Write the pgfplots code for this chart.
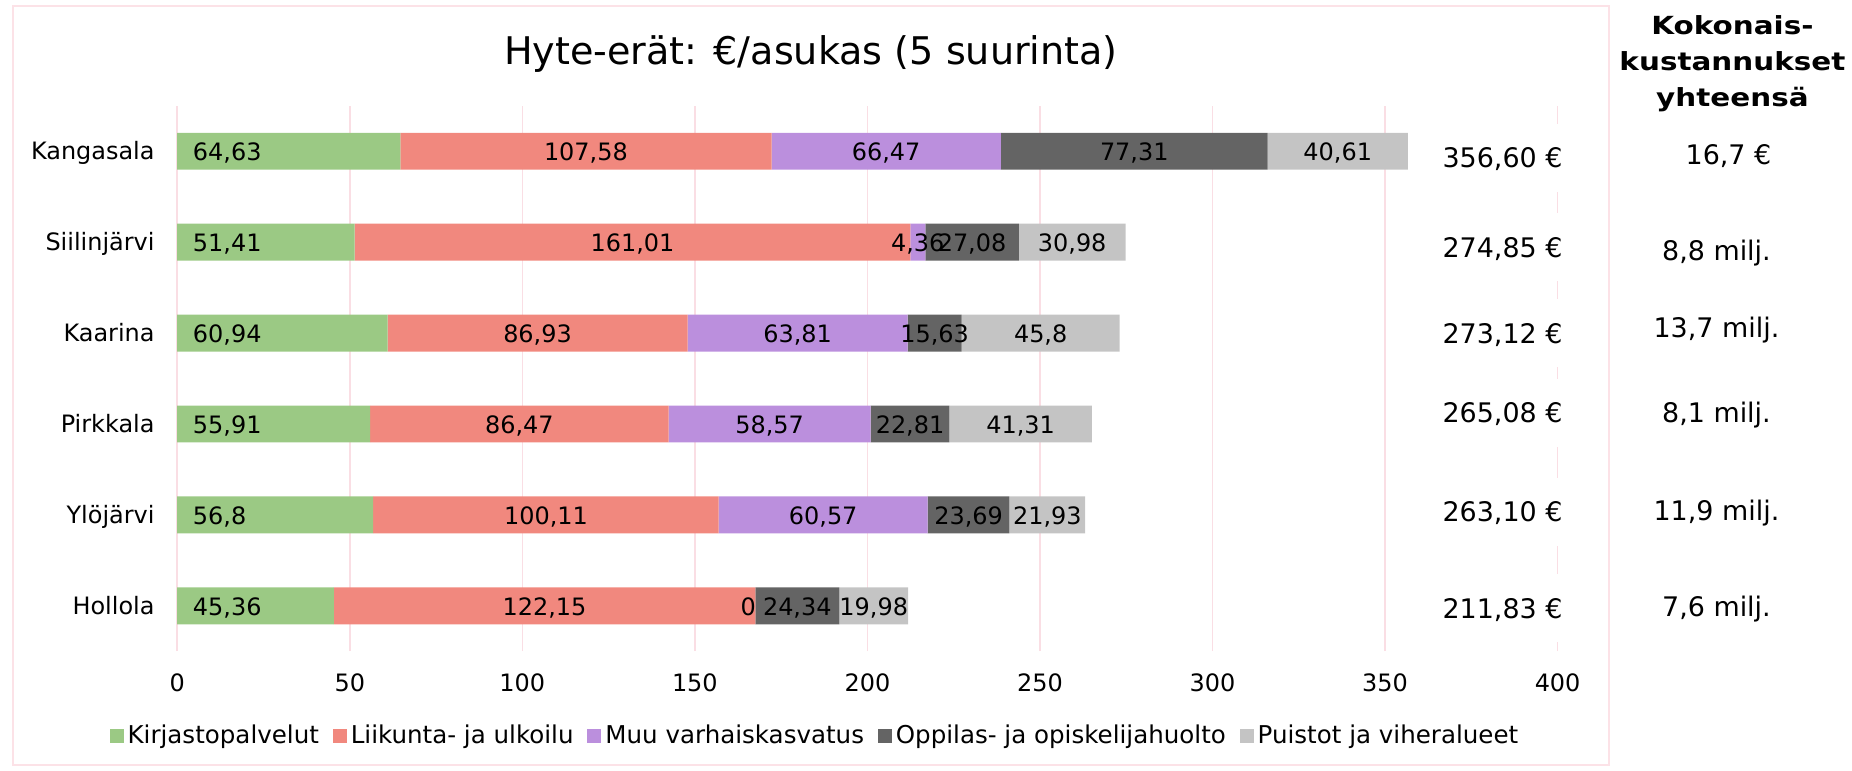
\documentclass[border=0pt]{standalone}
\usepackage{pgfplots}
\pgfplotsset{compat=1.18}
\usepackage{pgfplotstable}
\usepackage{fontspec}
\setmainfont{DejaVu Sans}
\newfontfamily\hdrfont[FakeStretch=1.18,BoldFont={DejaVu Sans Bold}]{DejaVu Sans}
\newcommand\lbl{\fontsize{12}{14}\selectfont}
\newcommand\tot{\fontsize{13.5}{16}\selectfont}
\definecolor{cgreen}{RGB}{155,201,132}
\definecolor{csalmon}{RGB}{241,136,126}
\definecolor{cpurple}{RGB}{187,143,221}
\definecolor{cdark}{RGB}{100,100,100}
\definecolor{clight}{RGB}{196,196,196}
\definecolor{gridc}{RGB}{250,222,228}
\definecolor{framec}{RGB}{252,226,231}

\pgfplotstableread{
y  a      b      c     d     e
5  64.63  107.58 66.47 77.31 40.61
4  51.41  161.01 4.36  27.08 30.98
3  60.94  86.93  63.81 15.63 45.8
2  55.91  86.47  58.57 22.81 41.31
1  56.8   100.11 60.57 23.69 21.93
0  45.36  122.15 0     24.34 19.98
}\data

\pgfplotsset{
  sqleg/.style={legend image code/.code={\fill[##1] (0pt,-3.5pt) rectangle (7pt,3.5pt);}},
  ctr/.style={nodes near coords, point meta=\thisrow{#1},
    every node near coord/.style={anchor=base, inner sep=0pt,
      yshift=-4.6pt, text=black, font=\lbl}},
  lbase/.style={nodes near coords, point meta=\thisrow{#1},
    visualization depends on={\thisrow{#1} \as \vv},
    every node near coord/.style={anchor=base west, inner sep=0pt,
      xshift={-0.865pt*\vv+7.7pt}, yshift=-4.6pt, text=black, font=\lbl}},
}

\begin{document}
\begin{tikzpicture}
\begin{scope}[x=0.5pt,y=-0.5pt]
  \path (0,0) rectangle (1852,773);
  \draw[framec, line width=0.8pt] (13,6) rectangle (1613,767);
\end{scope}
\begin{axis}[
  at={(88.85pt,-326.5pt)}, anchor=south west,
  scale only axis, width=692pt, height=273.5pt,
  xbar stacked, bar width=18.5pt,
  xmin=0, xmax=400, ymin=-0.5, ymax=5.5,
  xtick={0,50,...,400},
  ytick={0,...,5},
  yticklabels={Hollola,Ylöjärvi,Pirkkala,Kaarina,Siilinjärvi,Kangasala},
  axis lines=left, axis line style={draw=none},
  major tick length=0pt,
  xmajorgrids, major grid style={draw=gridc, line width=0.8pt},
  tick label style={font=\lbl},
  xticklabel style={anchor=center, yshift=-16pt},
  yticklabel style={anchor=base east, inner sep=0pt, xshift=-11.2pt, yshift=-4.4pt},
  clip=false,
  legend columns=5,
  legend style={at={(0.4627,-0.1554)}, anchor=center, draw=none, fill=none,
    font=\fontsize{12.3}{14}\selectfont, /tikz/every even column/.append style={column sep=5pt}},
  /pgf/number format/use comma,
  /pgf/number format/fixed,
  /pgf/number format/precision=2,
  /pgf/number format/1000 sep={},
  /pgf/number format/assume math mode=true,
]
\addplot[fill=cgreen, draw=none, sqleg, lbase=a] table[x=a, y=y] {\data};
\addlegendentry{Kirjastopalvelut}
\addplot[fill=csalmon, draw=none, sqleg, ctr=b] table[x=b, y=y] {\data};
\addlegendentry{Liikunta- ja ulkoilu}
\addplot[fill=cpurple, draw=none, sqleg, ctr=c] table[x=c, y=y] {\data};
\addlegendentry{Muu varhaiskasvatus}
\addplot[fill=cdark, draw=none, sqleg, ctr=d] table[x=d, y=y] {\data};
\addlegendentry{Oppilas- ja opiskelijahuolto}
\addplot[fill=clight, draw=none, sqleg, ctr=e] table[x=e, y=y] {\data};
\addlegendentry{Puistot ja viheralueet}
\coordinate (zero) at (axis cs:167.8,0);
\end{axis}
% zero-valued segment label (Hollola, Muu varhaiskasvatus = 0), on top
\node[anchor=base east, inner sep=0pt, yshift=-4.6pt, font=\lbl] at (zero) {0};
\begin{scope}[x=0.5pt,y=-0.5pt]
  \node[anchor=base, font=\fontsize{19.1}{23}\selectfont] at (813,65) {Hyte-erät: €/asukas (5 suurinta)};
  % totals with white boxes
  \foreach \b/\t in {168/356{,}60 €, 258/274{,}85 €, 344/273{,}12 €, 424/265{,}08 €, 523/263{,}10 €, 620/211{,}83 €}{
    \fill[white] (1420,\b-44) rectangle (1595,\b+24);
    \node[anchor=base east, font=\tot, inner sep=0pt] at (1567,\b) {\t};
  }
  % right column
  \node[anchor=base, font=\hdrfont\bfseries\fontsize{12.5}{15}\selectfont] at (1737,35) {Kokonais-};
  \node[anchor=base, font=\hdrfont\bfseries\fontsize{12.5}{15}\selectfont] at (1737,71) {kustannukset};
  \node[anchor=base, font=\hdrfont\bfseries\fontsize{12.5}{15}\selectfont] at (1737,107) {yhteensä};
  \node[anchor=base, font=\tot] at (1733,165) {16,7 €};
  \node[anchor=base, font=\tot] at (1721,261) {8,8 milj.};
  \node[anchor=base, font=\tot] at (1721,338) {13,7 milj.};
  \node[anchor=base, font=\tot] at (1721,424) {8,1 milj.};
  \node[anchor=base, font=\tot] at (1721,522) {11,9 milj.};
  \node[anchor=base, font=\tot] at (1721,618) {7,6 milj.};
\end{scope}
\end{tikzpicture}
\end{document}
